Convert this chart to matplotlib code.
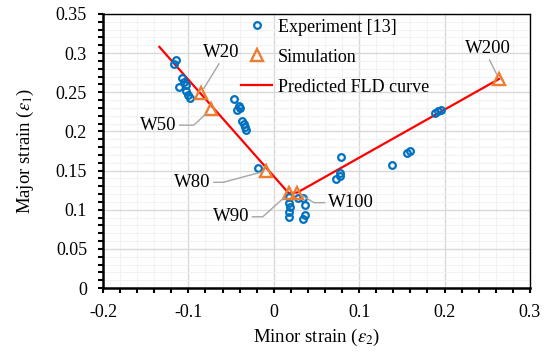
import matplotlib
matplotlib.use('Agg')
import matplotlib.pyplot as plt
from matplotlib.ticker import MultipleLocator, FuncFormatter

plt.rcParams['font.family'] = ['Liberation Serif', 'DejaVu Serif']
plt.rcParams['mathtext.fontset'] = 'stix'
plt.rcParams['font.size'] = 13

# Experiment [13] (minor strain, major strain)
exp_x = [-0.115, -0.117, -0.108, -0.105, -0.111, -0.103, -0.103, -0.100, -0.098,
         -0.047, -0.041, -0.040, -0.043, -0.037, -0.035, -0.034, -0.033, -0.019,
         0.018, 0.018, 0.019, 0.018, 0.018, 0.028, 0.034, 0.036, 0.036, 0.034,
         0.079, 0.078, 0.077, 0.073, 0.139, 0.156, 0.160, 0.189, 0.192, 0.196]
exp_y = [0.291, 0.286, 0.268, 0.263, 0.257, 0.259, 0.252, 0.247, 0.243,
         0.241, 0.232, 0.230, 0.227, 0.213, 0.209, 0.206, 0.202, 0.153,
         0.116, 0.109, 0.103, 0.097, 0.091, 0.115, 0.115, 0.106, 0.093, 0.088,
         0.167, 0.147, 0.143, 0.139, 0.157, 0.172, 0.175, 0.223, 0.226, 0.227]

# Simulation
sim_labels = ['W20', 'W50', 'W80', 'W90', 'W100', 'W200']
sim_x = [-0.0855, -0.0738, -0.0086, 0.0176, 0.0277, 0.2638]
sim_y = [0.2486, 0.2282, 0.1498, 0.1209, 0.1217, 0.2669]

# Predicted FLD curve
fld_x = [-0.134, 0.0176, 0.0277, 0.2638]
fld_y = [0.308, 0.121, 0.122, 0.267]

fig = plt.figure(figsize=(5.52, 3.56), dpi=100)
ax = fig.add_axes([0.1866, 0.191, 0.7734, 0.7697])

ax.plot(exp_x, exp_y, 'o', ms=4.8, mfc='none', mec='#0070C0', mew=1.6,
        label='Experiment [13]', zorder=4)
ax.plot(sim_x, sim_y, '^', ms=8, mfc='none', mec='#ED7D31', mew=1.7,
        label='Simulation', zorder=5)
ax.plot(fld_x, fld_y, '-', color='#FF0000', lw=1.6,
        label='Predicted FLD curve', zorder=3)

# callouts: text position, start point on text, connection
callouts = {
    'W20': ((-0.062, 0.301), (0.5, 0.0), 'arc3'),
    'W50': ((-0.135, 0.208), (1.0, 0.5), 'angle,angleA=0,angleB=43,rad=0'),
    'W80': ((-0.095, 0.135), (1.0, 0.5), 'angle,angleA=0,angleB=15,rad=0'),
    'W90': ((-0.050, 0.091), (1.0, 0.5), 'angle,angleA=0,angleB=42,rad=0'),
    'W100': ((0.090, 0.109), (0.0, 0.5), 'angle,angleA=0,angleB=-31,rad=0'),
    'W200': ((0.251, 0.306), (0.5, 0.0), 'arc3'),
}
for lab, x, y in zip(sim_labels, sim_x, sim_y):
    pos, rel, conn = callouts[lab]
    ax.annotate(lab, xy=(x, y), xytext=pos, ha='center', va='center',
                fontsize=13.5, zorder=6,
                arrowprops=dict(arrowstyle='-', color='#A6A6A6', lw=1.0,
                                relpos=rel, shrinkA=0, shrinkB=4,
                                connectionstyle=conn))

ax.set_xlim(-0.2, 0.3)
ax.set_ylim(0, 0.35)
ax.xaxis.set_major_locator(MultipleLocator(0.1))
ax.xaxis.set_minor_locator(MultipleLocator(0.02))
ax.yaxis.set_major_locator(MultipleLocator(0.05))
ax.yaxis.set_minor_locator(MultipleLocator(0.01))
fmt = FuncFormatter(lambda v, p: '{:g}'.format(round(v, 3)))
ax.xaxis.set_major_formatter(fmt)
ax.yaxis.set_major_formatter(fmt)

ax.grid(which='major', color='#D9D9D9', lw=1.0)
ax.grid(which='minor', color='#F2F2F2', lw=0.8)
ax.set_axisbelow(True)

for s in ['left', 'bottom']:
    ax.spines[s].set_linewidth(1.8)
for s in ['top', 'right']:
    ax.spines[s].set_linewidth(1.0)
ax.tick_params(which='both', direction='out', width=1.5, length=3.5)
ax.tick_params(axis='both', which='major', labelsize=13, pad=8)

ax.set_xlabel(r'Minor strain ($\varepsilon_2$)', fontsize=13.5, labelpad=4)
ax.set_ylabel(r'Major strain ($\varepsilon_1$)', fontsize=13.5, labelpad=14)

ax.legend(loc='upper left', bbox_to_anchor=(0.32, 0.99), frameon=False,
          fontsize=13, handlelength=1.7, handletextpad=0.3, labelspacing=0.72,
          borderpad=0.1, borderaxespad=0)

fig.savefig('out.png', dpi=100)
